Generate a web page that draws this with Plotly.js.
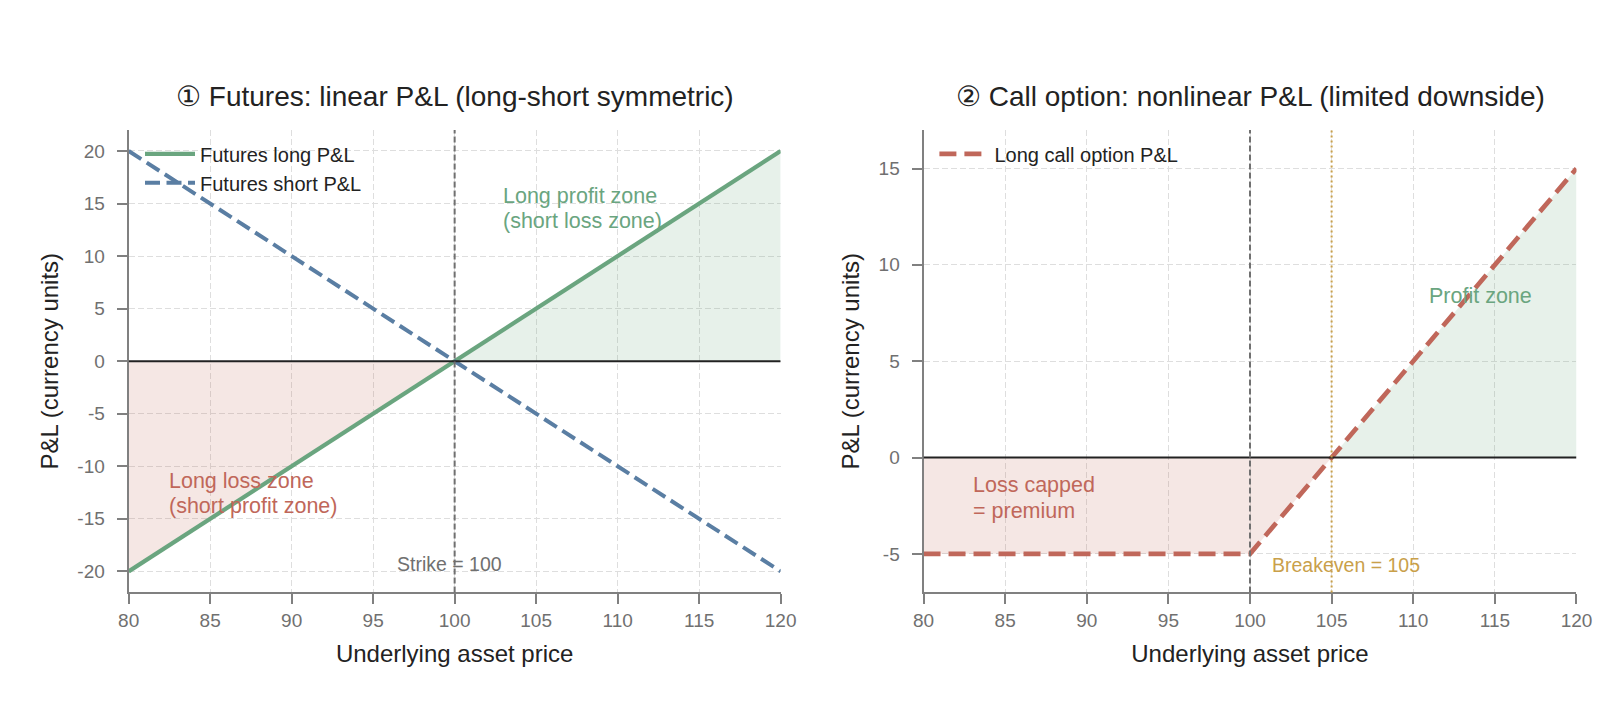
<!DOCTYPE html>
<html>
<head>
<meta charset="utf-8">
<script src="https://cdn.plot.ly/plotly-3.0.1.min.js"></script>
<style>
    html, body { margin: 0; padding: 0; background: #fff; overflow: hidden; }
    #chart { width: 1600px; height: 722px; }
</style>
</head>
<body>
<div id="chart"></div>
<script>
// futures panel
let futPrices = [80, 100, 120];
let futLong = [-20, 0, 20];
let futShort = [20, 0, -20];
let lossPrices = [80, 100];
let lossLong = [-20, 0];
let gainPrices = [100, 120];
let gainLong = [0, 20];

// call option panel
let callPrices = [80, 100, 105, 120];
let callPnL = [-5, -5, 0, 15];
let callLossPrices = [80, 100, 105];
let callLossPnL = [-5, -5, 0];
let callGainPrices = [105, 120];
let callGainPnL = [0, 15];

let strike = 100;
let breakeven = 105;

let xTicks = [80, 85, 90, 95, 100, 105, 110, 115, 120];
let yTicksLeft = [-20, -15, -10, -5, 0, 5, 10, 15, 20];
let yTextLeft = ['-20', '-15', '-10', '-5', '0', '5', '10', '15', '20'];
let yTicksRight = [-5, 0, 5, 10, 15];
let yTextRight = ['-5', '0', '5', '10', '15'];

let green = '#6aa57f';
let blue = '#5a7ea3';
let red = '#c0675a';
let gold = '#c9a04a';
let greenFill = 'rgba(106,165,127,0.16)';
let redFill = 'rgba(192,103,90,0.16)';
let font = 'Liberation Sans, Arial, sans-serif';

let traces = [
    { x: lossPrices, y: lossLong, xaxis: 'x', yaxis: 'y', type: 'scatter', mode: 'none',
      fill: 'tozeroy', fillcolor: redFill, showlegend: false, hoverinfo: 'skip' },
    { x: gainPrices, y: gainLong, xaxis: 'x', yaxis: 'y', type: 'scatter', mode: 'none',
      fill: 'tozeroy', fillcolor: greenFill, showlegend: false, hoverinfo: 'skip' },
    { x: futPrices, y: futLong, xaxis: 'x', yaxis: 'y', type: 'scatter', mode: 'lines',
      name: 'Futures long P&L', line: { color: green, width: 4.2 }, legend: 'legend' },
    { x: futPrices, y: futShort, xaxis: 'x', yaxis: 'y', type: 'scatter', mode: 'lines',
      name: 'Futures short P&L', line: { color: blue, width: 4, dash: '15px,6.5px' }, legend: 'legend' },

    { x: callLossPrices, y: callLossPnL, xaxis: 'x2', yaxis: 'y2', type: 'scatter', mode: 'none',
      fill: 'tozeroy', fillcolor: redFill, showlegend: false, hoverinfo: 'skip' },
    { x: callGainPrices, y: callGainPnL, xaxis: 'x2', yaxis: 'y2', type: 'scatter', mode: 'none',
      fill: 'tozeroy', fillcolor: greenFill, showlegend: false, hoverinfo: 'skip' },
    { x: callPrices, y: callPnL, xaxis: 'x2', yaxis: 'y2', type: 'scatter', mode: 'lines',
      name: 'Long call option P&L', line: { color: red, width: 4.7, dash: '17px,8px' }, legend: 'legend2' }
];

let axisCommon = {
    showline: true,
    linecolor: '#808080',
    linewidth: 2,
    ticks: 'outside',
    ticklen: 10,
    tickwidth: 2,
    tickcolor: '#808080',
    tickfont: { size: 19, color: '#707070', family: font },
    showgrid: true,
    gridcolor: '#dedede',
    griddash: '6px,3px',
    gridwidth: 1,
    zeroline: false,
    mirror: false
};

function axis(extra) {
    return Object.assign({}, axisCommon, extra);
}

let xTitle = { text: 'Underlying asset price', font: { size: 24, color: '#222', family: font }, standoff: 15 };
let yTitle = { text: 'P&L (currency units)', font: { size: 24, color: '#222', family: font }, standoff: 12 };

let shapes = [
    { type: 'line', xref: 'x', yref: 'y', x0: 80, x1: 120, y0: 0, y1: 0,
      line: { color: '#222', width: 2 } },
    { type: 'line', xref: 'x', yref: 'y domain', x0: strike, x1: strike, y0: 0, y1: 1,
      line: { color: '#707070', width: 2, dash: '6px,3px' } },
    { type: 'line', xref: 'x2', yref: 'y2', x0: 80, x1: 120, y0: 0, y1: 0,
      line: { color: '#222', width: 2 } },
    { type: 'line', xref: 'x2', yref: 'y2 domain', x0: strike, x1: strike, y0: 0, y1: 1,
      line: { color: '#707070', width: 2, dash: '6px,3px' } },
    { type: 'line', xref: 'x2', yref: 'y2 domain', x0: breakeven, x1: breakeven, y0: 0, y1: 1,
      line: { color: gold, width: 2, dash: '2px,3px' } }
];

// one annotation per text line, so the line spacing can follow the reference
function note(text, xref, yref, x, y, color, size, anchor) {
    return { text: text, xref: xref, yref: yref, x: x, y: y, xanchor: anchor || 'left',
             showarrow: false, borderpad: 0, font: { size: size, color: color, family: font } };
}

let annotations = [
    { text: '① Futures: linear P&L (long-short symmetric)', xref: 'paper', yref: 'paper',
      x: 0.2841, y: 0.866, xanchor: 'center', yanchor: 'middle', showarrow: false,
      font: { size: 28, color: '#222', family: font } },
    { text: '② Call option: nonlinear P&L (limited downside)', xref: 'paper', yref: 'paper',
      x: 0.7813, y: 0.866, xanchor: 'center', yanchor: 'middle', showarrow: false,
      font: { size: 28, color: '#222', family: font } },

    note('Long profit zone', 'x', 'y', 102.9, 15.7, green, 21.5),
    note('(short loss zone)', 'x', 'y', 102.9, 13.3, green, 21.5),
    note('Long loss zone', 'x', 'y', 82.4, -11.36, red, 21.5),
    note('(short profit zone)', 'x', 'y', 82.4, -13.79, red, 21.5),
    note('Strike = 100', 'x', 'y', 99.7, -19.3, '#707070', 19.5, 'center'),

    note('Profit zone', 'x2', 'y2', 114.1, 8.4, green, 21.5, 'center'),
    note('Loss capped', 'x2', 'y2', 83, -1.44, red, 21.5),
    note('= premium', 'x2', 'y2', 83, -2.77, red, 21.5),
    note('Breakeven = 105', 'x2', 'y2', 101.3, -5.6, gold, 19.5)
];

let layout = {
    width: 1600,
    height: 722,
    margin: { l: 0, r: 0, t: 0, b: 0 },
    paper_bgcolor: '#fff',
    plot_bgcolor: '#fff',
    font: { family: font, color: '#222' },
    showlegend: true,
    xaxis: axis({
        domain: [0.0804, 0.4879], range: [80, 120], tickvals: xTicks, anchor: 'y',
        ticklabelstandoff: 0, title: xTitle
    }),
    yaxis: axis({
        domain: [0.1795, 0.82], range: [-22, 22], tickvals: yTicksLeft, ticktext: yTextLeft, anchor: 'x',
        ticklabelstandoff: 8, title: yTitle
    }),
    xaxis2: axis({
        domain: [0.5772, 0.9853], range: [80, 120], tickvals: xTicks, anchor: 'y2',
        ticklabelstandoff: 0, title: xTitle
    }),
    yaxis2: axis({
        domain: [0.1795, 0.82], range: [-7, 17], tickvals: yTicksRight, ticktext: yTextRight, anchor: 'x2',
        ticklabelstandoff: 8, title: yTitle
    }),
    legend: {
        x: 0.0875, y: 0.814, xanchor: 'left', yanchor: 'top',
        bgcolor: 'rgba(255,255,255,0)', font: { size: 20, color: '#222', family: font },
        itemwidth: 50
    },
    legend2: {
        x: 0.584, y: 0.814, xanchor: 'left', yanchor: 'top',
        bgcolor: 'rgba(255,255,255,0)', font: { size: 20, color: '#222', family: font },
        itemwidth: 50
    },
    shapes: shapes,
    annotations: annotations
};

Plotly.newPlot('chart', traces, layout, { displayModeBar: false, staticPlot: true });
</script>
</body>
</html>
